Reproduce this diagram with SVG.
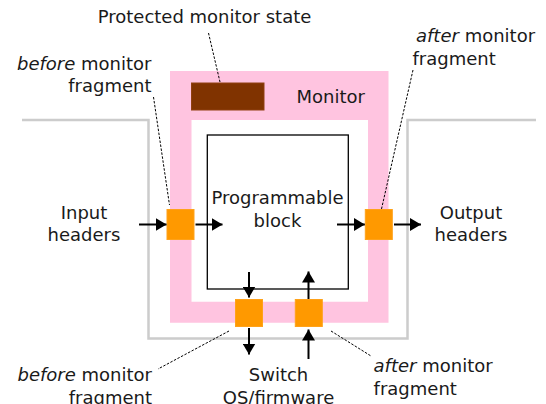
<svg xmlns="http://www.w3.org/2000/svg" width="546" height="404" viewBox="0 0 546 404">
  <style>
    text { font-family: "DejaVu Sans", "Liberation Sans", sans-serif; font-size: 18px; fill: #1a1a1a; }
    .mid { text-anchor: middle; }
    .end { text-anchor: end; }
    .it { font-style: italic; }
    .frag { fill: #ff9900; stroke: #ffa21a; stroke-width: 1; }
    .arrow { stroke: #000; stroke-width: 2; fill: none; marker-end: url(#head); }
    .leader { stroke: #000; stroke-width: 1; stroke-dasharray: 2.5 1.5; fill: none; }
  </style>
  <defs>
    <marker id="head" markerUnits="userSpaceOnUse" markerWidth="12" markerHeight="13" refX="11" refY="6.5" orient="auto">
      <path d="M0,0 L11,6.5 L0,13 Z" fill="#000"/>
    </marker>
  </defs>

  <rect width="546" height="404" fill="#fff"/>

  <!-- switch boundary -->
  <g id="switch">
    <path d="M22,120 H148.5 V338.5 H407.5 V120 H536" fill="none" stroke="#cccccc" stroke-width="2.5"/>
  </g>

  <!-- monitor frame with protected state -->
  <g id="monitor">
    <path d="M170,71 H388.5 V322.7 H170 Z M191.5,120 V301.7 H368 V120 Z" fill="#ffc4e0" fill-rule="evenodd"/>
    <rect x="191.5" y="83" width="72.5" height="27" fill="#803300" stroke="#8f4010" stroke-width="1"/>
    <text x="296.5" y="102.7">Monitor</text>
  </g>

  <!-- programmable block -->
  <g id="programmable">
    <rect x="207.3" y="135" width="141" height="154" fill="#fff" stroke="#000" stroke-width="1.3"/>
    <text class="mid" x="277.5" y="204">Programmable</text>
    <text class="mid" x="277.5" y="226.5">block</text>
  </g>

  <!-- monitor fragments -->
  <g id="frag-in"><rect class="frag" x="167" y="209.5" width="27" height="30"/></g>
  <g id="frag-out"><rect class="frag" x="365.3" y="209.5" width="27" height="30"/></g>
  <g id="frag-os-out"><rect class="frag" x="235.5" y="299.5" width="27" height="27"/></g>
  <g id="frag-os-in"><rect class="frag" x="295.3" y="299.5" width="27" height="27"/></g>

  <!-- connectors -->
  <g id="connectors">
    <line class="arrow" x1="139" y1="224.5" x2="166.5" y2="224.5"/>
    <line class="arrow" x1="195.5" y1="224.5" x2="222.5" y2="224.5"/>
    <line class="arrow" x1="337" y1="224.5" x2="364.8" y2="224.5"/>
    <line class="arrow" x1="394" y1="224.5" x2="421" y2="224.5"/>
    <line class="arrow" x1="249" y1="272" x2="249" y2="297.5"/>
    <line class="arrow" x1="308.5" y1="299" x2="308.5" y2="271.5"/>
    <line class="arrow" x1="249" y1="328" x2="249" y2="354.5"/>
    <line class="arrow" x1="308.5" y1="359" x2="308.5" y2="329.5"/>

    <line class="leader" x1="208.5" y1="33" x2="220" y2="82"/>
    <line class="leader" x1="153.5" y1="97" x2="169.5" y2="205"/>
    <line class="leader" x1="413" y1="70" x2="381.5" y2="209"/>
    <line class="leader" x1="229" y1="331" x2="158" y2="369"/>
    <line class="leader" x1="331" y1="331" x2="371" y2="356"/>
  </g>

  <!-- labels -->
  <g id="labels">
    <text class="mid" x="204.5" y="23">Protected monitor state</text>
    <text class="end" x="151.5" y="69.5"><tspan class="it">before</tspan> monitor</text>
    <text class="end" x="151.5" y="92">fragment</text>
    <text x="416" y="42.3"><tspan class="it">after</tspan> monitor</text>
    <text x="412.5" y="64.5">fragment</text>
    <text class="mid" x="84" y="218.5">Input</text>
    <text class="mid" x="84" y="240.5">headers</text>
    <text class="mid" x="471" y="218.5">Output</text>
    <text class="mid" x="471" y="240.5">headers</text>
    <text class="end" x="152" y="381"><tspan class="it">before</tspan> monitor</text>
    <text class="end" x="152" y="403.5">fragment</text>
    <text class="mid" x="278.5" y="381">Switch</text>
    <text class="mid" x="278.5" y="403.5">OS/firmware</text>
    <text x="373.6" y="372"><tspan class="it">after</tspan> monitor</text>
    <text x="373.6" y="394.5">fragment</text>
  </g>
</svg>
